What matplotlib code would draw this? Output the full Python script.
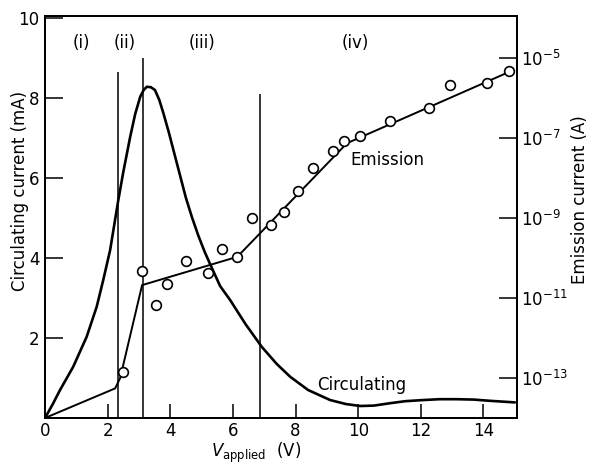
import matplotlib
matplotlib.use("Agg")
import matplotlib.pyplot as plt
from matplotlib.ticker import FixedLocator, NullLocator

# Circulating current (mA) vs applied voltage (V)
circ_v = [0, 0.25, 0.48, 0.9, 1.33, 1.65, 1.86, 2.08, 2.33, 2.5, 2.72, 2.88, 3.04, 3.15,
          3.25, 3.38, 3.51, 3.65, 3.78, 3.95, 4.1, 4.3, 4.5, 4.7, 4.9, 5.1, 5.27, 5.59,
          5.91, 6.4, 6.92, 7.4, 7.83, 8.4, 9.1, 9.6, 10.06, 10.5, 11.02, 11.5, 12.1,
          12.6, 13.15, 13.7, 14.2, 14.6, 15.0]
circ_ma = [0, 0.35, 0.7, 1.28, 2.03, 2.78, 3.45, 4.2, 5.4, 6.15, 7.03, 7.6, 8.03, 8.2,
           8.28, 8.27, 8.2, 7.95, 7.62, 7.15, 6.7, 6.1, 5.5, 5.0, 4.55, 4.15, 3.85, 3.3,
           2.95, 2.35, 1.78, 1.35, 1.03, 0.7, 0.45, 0.35, 0.3, 0.31, 0.37, 0.42, 0.45,
           0.47, 0.47, 0.46, 0.43, 0.41, 0.39]

# Emission current measurements (A)
emis_v = [2.49, 3.1, 3.54, 3.89, 4.5, 5.19, 5.64, 6.14, 6.62, 7.21, 7.64, 8.07, 8.55,
          9.18, 9.56, 10.06, 11.02, 12.25, 12.94, 14.11, 14.82]
emis_a = [1.45e-13, 4.6e-11, 6.8e-12, 2.3e-11, 8.5e-11, 4.3e-11, 1.7e-10, 1.07e-10,
          9.8e-10, 6.8e-10, 1.38e-9, 4.8e-9, 1.74e-8, 4.6e-8, 8.5e-8, 1.12e-7, 2.6e-7,
          5.5e-7, 2.14e-6, 2.34e-6, 4.8e-6]

# Emission fitted line (A)
fit_v = [0, 2.24, 2.4, 3.1, 6.14, 9.64, 14.85]
fit_a = [1e-14, 5.5e-14, 1e-13, 2.1e-11, 1.07e-10, 7.4e-8, 4.6e-6]

# Region boundaries (V) and their heights (mA)
bound_v = [2.34, 3.12, 6.88]
bound_top = [8.66, 9.0, 8.09]

regions = ["(i)", "(ii)", "(iii)", "(iv)"]
region_v = [1.15, 2.56, 5.0, 9.9]

x_ticks = [0, 2, 4, 6, 8, 10, 12, 14]
y_ticks = [2, 4, 6, 8, 10]
r_ticks = [1e-13, 1e-11, 1e-9, 1e-7, 1e-5]
r_labels = [r"$10^{-13}$", r"$10^{-11}$", r"$10^{-9}$", r"$10^{-7}$", r"$10^{-5}$"]

plt.rcParams['font.family'] = ['DejaVu Sans']
plt.rcParams['mathtext.fontset'] = 'dejavusans'

fig = plt.figure(figsize=(5.9, 4.65), dpi=100)
ax = fig.add_axes([45/590, 1 - 418/465, 472/590, 402/465])
ax2 = ax.twinx()

ax.plot(circ_v, circ_ma, color='black', lw=1.9, solid_joinstyle='round',
        solid_capstyle='round', zorder=3)
ax.vlines(bound_v, 0, bound_top, color='black', lw=1.1)

ax2.set_yscale('log')
ax2.plot(fit_v, fit_a, color='black', lw=1.4, zorder=3)
ax2.plot(emis_v, emis_a, 'o', mfc='white', mec='black', ms=7, mew=1.2, zorder=4)

ax.set_xlim(0, 15.07)
ax.set_ylim(0, 10.05)
ax2.set_ylim(1e-14, 10 ** -3.95)

ax.set_xticks(x_ticks)
ax.set_yticks(y_ticks)
ax.tick_params(axis='both', direction='in', labelsize=12, width=1.1, color='black')
ax.tick_params(axis='y', length=13, pad=4)
ax.tick_params(axis='x', length=10, pad=3)
ax2.yaxis.set_major_locator(FixedLocator(r_ticks))
ax2.yaxis.set_minor_locator(NullLocator())
ax2.set_yticklabels(r_labels)
ax2.tick_params(axis='y', direction='in', length=13, width=1.1, pad=3, labelsize=12)

for a in (ax, ax2):
    for s in a.spines.values():
        s.set_linewidth(1.4)

for lab, v in zip(regions, region_v):
    ax.text(v, 9.38, lab, ha='center', va='center', fontsize=12)

ax.text(9.74, 6.45, "Emission", ha='left', va='center', fontsize=12)
ax.text(8.68, 0.83, "Circulating", ha='left', va='center', fontsize=12)

fig.text(256/590, 1 - 453/465, r"$V_{\mathrm{applied}}$  (V)", ha='center', va='center', fontsize=12)
fig.text(20/590, 1 - 191/465, "Circulating current (mA)", rotation=90, ha='center', va='center', fontsize=12)
fig.text(580/590, 1 - 200/465, "Emission current (A)", rotation=90, ha='center', va='center', fontsize=12)

fig.savefig("out.png", dpi=100)
